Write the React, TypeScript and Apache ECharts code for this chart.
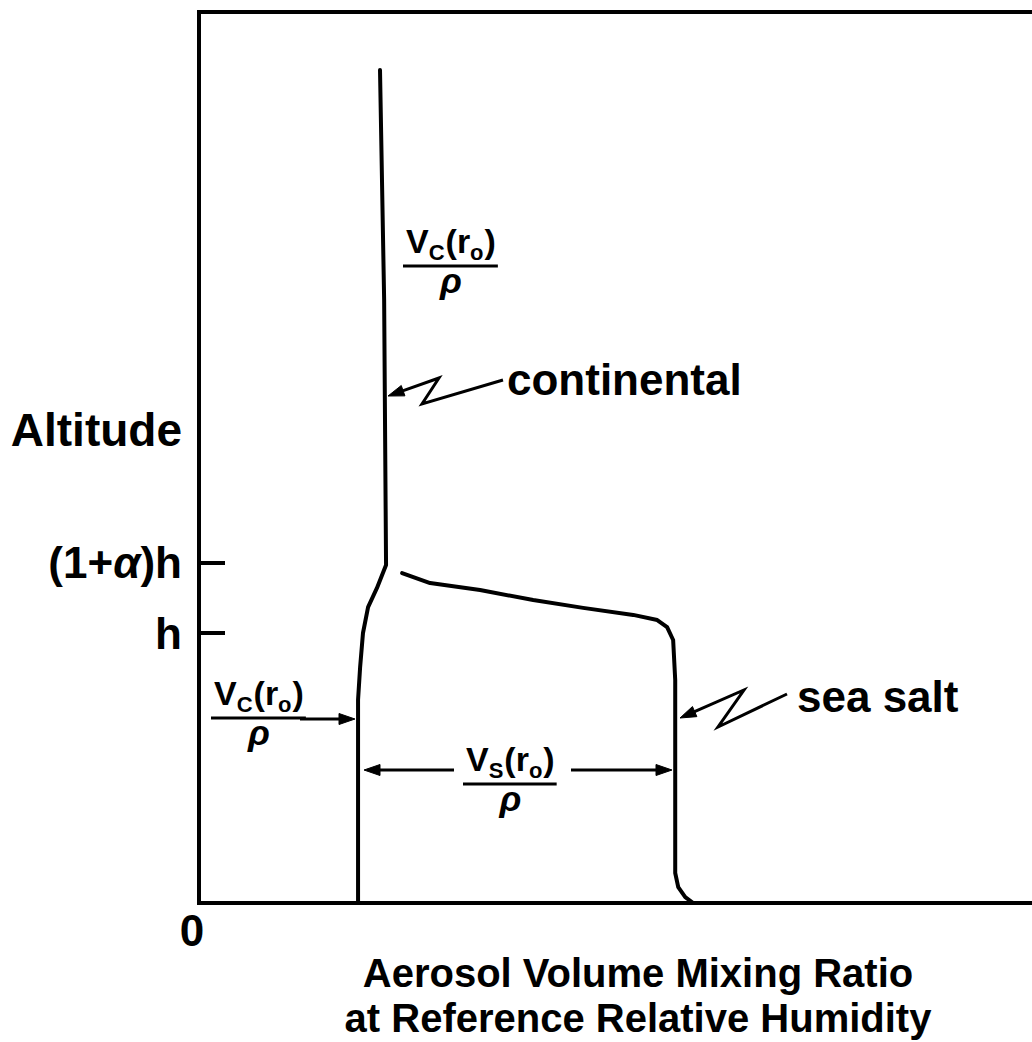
import React, { useEffect, useRef } from "react";
import * as echarts from "echarts";

// ---- data (x in units of Vc(ro)/rho, y in units of h) ----
const continentalX = [1.0, 1.0, 1.013, 1.031, 1.063, 1.119, 1.176, 1.164, 1.138];
const continentalY = [0, 0.752, 0.874, 1.0, 1.096, 1.167, 1.252, 2.233, 3.085];
const seaSaltX = [1.277, 1.453, 1.767, 2.101, 2.415, 2.73, 2.881, 2.943, 2.981, 2.994, 2.994, 3.013, 3.057, 3.107, 3.3];
const seaSaltY = [1.222, 1.185, 1.159, 1.122, 1.093, 1.067, 1.048, 1.022, 0.974, 0.826, 0.111, 0.059, 0.022, 0, 0];
const yTickValues = [1, 1.26];
const yTickLabels = ["h", "(1+{a|α})h"];
const xTickValues = [0];
const xTickLabels = ["0"];
const X_MAX = 5.3;
const Y_MAX = 3.3;

const FONT = '"Liberation Sans", Arial, Helvetica, sans-serif';

let measureCtx: CanvasRenderingContext2D | null = null;
function measure(text: string, size: number, italic = false) {
  if (!measureCtx) measureCtx = document.createElement("canvas").getContext("2d");
  measureCtx!.font = `${italic ? "italic " : ""}bold ${size}px ${FONT}`;
  return measureCtx!.measureText(text).width;
}

function txt(text: string, x: number, y: number, size: number, align = "left", italic = false, lineHeight?: number) {
  const style: any = {
    text,
    fill: "#000",
    font: `${italic ? "italic " : ""}bold ${size}px ${FONT}`,
    align,
    textAlign: align,
    verticalAlign: "middle",
    textVerticalAlign: "middle",
  };
  if (lineHeight) style.lineHeight = lineHeight;
  return { type: "text", x, y, silent: true, style };
}

// fraction like  V_C(r_o) / rho
function fraction(left: number, top: number, sub1: string) {
  const MAIN = 34, SUB = 22;
  const pieces: [string, boolean][] = [["V", false], [sub1, true], ["(r", false], ["o", true], [")", false]];
  const els: any[] = [];
  let x = left;
  const mainBase = top + 24;
  const subBase = top + 32;
  for (const [t, sub] of pieces) {
    const size = sub ? SUB : MAIN;
    const base = sub ? subBase : mainBase;
    els.push(txt(t, x, base - 0.32 * size, size));
    x += measure(t, size) + (sub ? 1 : 0);
  }
  const barY = top + 38;
  els.push({
    type: "line",
    silent: true,
    shape: { x1: left - 3, y1: barY, x2: x + 2, y2: barY },
    style: { stroke: "#000", lineWidth: 3 },
  });
  const cx = (left + x) / 2;
  els.push(txt("ρ", cx, top + 64 - 0.32 * 36, 36, "center", true));
  return els;
}

// polyline with arrow head at its first point
function arrow(points: number[][]) {
  const [p0, p1] = points;
  const dx = p1[0] - p0[0], dy = p1[1] - p0[1];
  const len = Math.hypot(dx, dy);
  const ux = dx / len, uy = dy / len;
  const L = 16, W = 5.5;
  const bx = p0[0] + ux * L, by = p0[1] + uy * L;
  const head = [
    [p0[0], p0[1]],
    [bx - uy * W, by + ux * W],
    [bx + uy * W, by - ux * W],
  ];
  const linePts = [[bx - ux * 2, by - uy * 2], ...points.slice(1)];
  return [
    { type: "polyline", silent: true, shape: { points: linePts }, style: { stroke: "#000", lineWidth: 3, fill: null, lineJoin: "miter" } },
    { type: "polygon", silent: true, shape: { points: head }, style: { fill: "#000", stroke: "#000", lineWidth: 1 } },
  ];
}

export default function App() {
  const ref = useRef<HTMLDivElement>(null);
  useEffect(() => {
    if (!ref.current) return;
    const chart = echarts.init(ref.current, undefined, { renderer: "svg" });
    const lineStyle = { color: "#000", width: 4, cap: "round", join: "round" };
    const graphics: any[] = [
      txt("Altitude", 182, 430, 46, "right"),
      txt("continental", 507, 379, 44),
      txt("sea salt", 797, 696, 44),
      txt("Aerosol Volume Mixing Ratio", 638, 973, 40, "center"),
      txt("at Reference Relative Humidity", 638, 1018, 40, "center"),
      ...fraction(406, 228, "C"),
      ...fraction(214, 680, "C"),
      ...fraction(466, 746, "S"),
      ...arrow([[388, 396], [439, 378], [422, 404], [503, 380]]),
      ...arrow([[680, 718], [744, 690], [718, 727], [787, 694]]),
      ...arrow([[355, 719], [300, 719]]),
      ...arrow([[364, 770], [454, 770]]),
      ...arrow([[672, 770], [571, 770]]),
    ];
    chart.setOption({
      animation: false,
      backgroundColor: "#fff",
      grid: {
        left: 199,
        top: 12,
        width: 843,
        height: 891,
        show: true,
        borderColor: "#000",
        borderWidth: 4,
        containLabel: false,
        outerBoundsMode: "none",
      },
      xAxis: {
        type: "value",
        min: 0,
        max: X_MAX,
        splitLine: { show: false },
        axisLine: { show: true, lineStyle: { color: "#000", width: 4 } },
        axisTick: { show: false },
        axisLabel: {
          customValues: xTickValues,
          formatter: (v: number) => {
            const i = xTickValues.indexOf(v);
            return i >= 0 ? xTickLabels[i] : "";
          },
          color: "#000",
          fontFamily: FONT,
          fontWeight: "bold",
          fontSize: 44,
          margin: 5,
          padding: [0, 14, 0, 0],
          showMinLabel: true,
        },
      },
      yAxis: {
        type: "value",
        min: 0,
        max: Y_MAX,
        splitLine: { show: false },
        axisLine: { show: true, lineStyle: { color: "#000", width: 4 } },
        axisTick: {
          show: true,
          inside: true,
          length: 26,
          customValues: yTickValues,
          lineStyle: { color: "#000", width: 4 },
        },
        axisLabel: {
          customValues: yTickValues,
          formatter: (v: number) => {
            const i = yTickValues.indexOf(v);
            return i >= 0 ? yTickLabels[i] : "";
          },
          color: "#000",
          fontFamily: FONT,
          fontWeight: "bold",
          fontSize: 44,
          margin: 17,
          rich: {
            a: { fontFamily: FONT, fontWeight: "bold", fontStyle: "italic", fontSize: 44, color: "#000" },
          },
        },
      },
      series: [
        {
          type: "line",
          name: "continental",
          data: continentalX.map((x, i) => [x, continentalY[i]]),
          showSymbol: false,
          symbol: "none",
          lineStyle,
          silent: true,
        },
        {
          type: "line",
          name: "sea salt",
          data: seaSaltX.map((x, i) => [x, seaSaltY[i]]),
          showSymbol: false,
          symbol: "none",
          lineStyle,
          silent: true,
        },
      ],
      graphic: graphics,
    });
    return () => chart.dispose();
  }, []);
  return (
    <div
      ref={ref}
      style={{ position: "absolute", left: 0, top: 0, width: 1032, height: 1042, background: "#fff" }}
    />
  );
}
